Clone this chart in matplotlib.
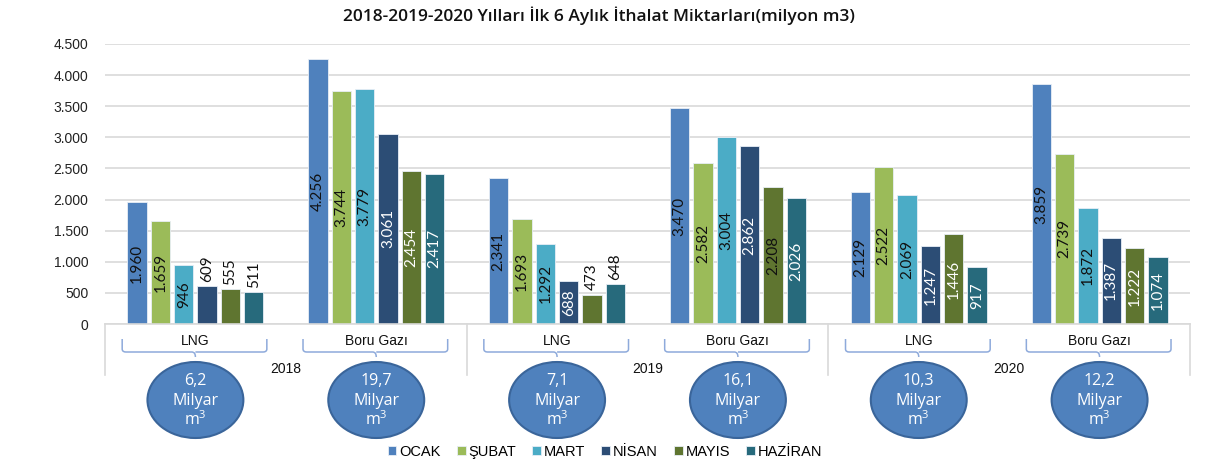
import matplotlib
matplotlib.use("Agg")
import matplotlib.pyplot as plt
import numpy as np
from matplotlib.patches import Ellipse
from matplotlib.path import Path
from matplotlib.patches import PathPatch
from matplotlib.transforms import blended_transform_factory
from matplotlib.ticker import FuncFormatter

plt.rcParams["mathtext.fontset"] = "custom"
plt.rcParams["mathtext.rm"] = "Open Sans"
plt.rcParams["mathtext.it"] = "Open Sans"
plt.rcParams["mathtext.default"] = "rm"

# ---------------- data ----------------
months = ["OCAK", "ŞUBAT", "MART", "NİSAN", "MAYIS", "HAZİRAN"]
groups = ["LNG", "Boru Gazı", "LNG", "Boru Gazı", "LNG", "Boru Gazı"]
years = ["2018", "2019", "2020"]
ocak    = [1960, 4256, 2341, 3470, 2129, 3859]
subat   = [1659, 3744, 1693, 2582, 2522, 2739]
mart    = [946, 3779, 1292, 3004, 2069, 1872]
nisan   = [609, 3061, 688, 2862, 1247, 1387]
mayis   = [555, 2454, 473, 2208, 1446, 1222]
haziran = [511, 2417, 648, 2026, 917, 1074]
totals  = ["6,2", "19,7", "7,1", "16,1", "10,3", "12,2"]
title = "2018-2019-2020 Yılları İlk 6 Aylık İthalat Miktarları(milyon m3)"

series = [ocak, subat, mart, nisan, mayis, haziran]

# ---------------- style ----------------
colors = ["#4F81BD", "#9BBB59", "#4BACC6", "#2C4D75", "#5F7530", "#276A7C"]
inside_label_colors = ["#111111", "#111111", "#111111", "white", "white", "white"]
dark_exceptions = {(3, 4)}  # (group, month) drawn in dark text
outside_threshold = 650

W, H = 1208, 466
fig = plt.figure(figsize=(W / 100, H / 100), dpi=100)
fig.patch.set_facecolor("white")

def fy(p):
    return 1 - p / H

ax = fig.add_axes([105 / W, 142 / H, 1085 / W, 280 / H])
ax.set_xlim(-0.5, 5.5)
ax.set_ylim(0, 4500)
ax.set_yticks(np.arange(0, 4501, 500))
ax.yaxis.set_major_formatter(FuncFormatter(lambda v, p: f"{int(v):,}".replace(",", ".")))
ax.grid(axis="y", color="#D9D9D9", lw=1.2)
ax.set_axisbelow(True)
for s in ["top", "right", "left"]:
    ax.spines[s].set_visible(False)
ax.spines["bottom"].set_color("#D9D9D9")
ax.spines["bottom"].set_linewidth(1.2)
ax.tick_params(axis="y", length=0, pad=12, labelsize=10, labelcolor="#222222")
ax.tick_params(axis="x", length=0, labelbottom=False)
for lbl in ax.get_yticklabels():
    lbl.set_fontfamily("Liberation Sans")

x = np.arange(len(groups))
bw = 0.107
step = 0.129
label_font = "Lato"
for m, vals in enumerate(series):
    xs = x + (m - 2.5) * step
    ax.bar(xs, vals, width=bw, color=colors[m], edgecolor="#E8EEF6", linewidth=0.6,
           label=months[m], zorder=2)
    for g, (xx, v) in enumerate(zip(xs, vals)):
        txt = f"{v:,}".replace(",", ".")
        if v < outside_threshold:
            ax.annotate(txt, (xx, v), xytext=(0, 3), textcoords="offset points",
                        rotation=90, ha="center", va="bottom", fontsize=11,
                        color="#111111", family=label_font, zorder=3)
        else:
            c = inside_label_colors[m]
            if (g, m) in dark_exceptions:
                c = "#111111"
            ax.text(xx, v / 2, txt, rotation=90, ha="center", va="center",
                    fontsize=11, color=c, family=label_font, zorder=3)

# ---------------- category axis below ----------------
bt = blended_transform_factory(ax.transData, fig.transFigure)
sep_color = "#D9D9D9"
for sx in [-0.5, 1.5, 3.5, 5.5]:
    fig.add_artist(plt.Line2D([sx, sx], [fy(324), fy(375)], transform=bt,
                              color=sep_color, lw=1.2))

br_color = "#8EAADB"
for g, name in enumerate(groups):
    c = x[g]
    l, r = c - 0.405, c + 0.395
    fig.text(c, fy(341), name, transform=bt, ha="center", va="center",
             fontsize=10, family="Liberation Sans", color="#111111")
    d = 0.02
    verts = [(l, fy(339)), (l, fy(349)), (l, fy(352)), (l + d, fy(352)),
             (c - d, fy(352)), (c, fy(352)), (c, fy(357)),
             (c, fy(352)), (c + d, fy(352)),
             (r - d, fy(352)), (r, fy(352)), (r, fy(349)), (r, fy(339))]
    codes = [Path.MOVETO, Path.LINETO, Path.CURVE3, Path.CURVE3,
             Path.LINETO, Path.CURVE3, Path.CURVE3,
             Path.MOVETO, Path.LINETO,
             Path.LINETO, Path.CURVE3, Path.CURVE3, Path.LINETO]
    fig.add_artist(PathPatch(Path(verts, codes), transform=bt, fill=False,
                             edgecolor=br_color, lw=1.1))
    e = Ellipse((c, fy(400)), width=96 / 181, height=76 / H, transform=bt,
                facecolor="#4F81BD", edgecolor="#3A659A", lw=1.5)
    fig.add_artist(e)
    fig.text(c, fy(381), totals[g], transform=bt, ha="center", va="center",
             fontsize=11.5, color="white", family="Open Sans")
    fig.text(c, fy(401), "Milyar", transform=bt, ha="center", va="center",
             fontsize=11.5, color="white", family="Open Sans")
    fig.text(c, fy(420), r"m$^{3}$", transform=bt, ha="center", va="center",
             fontsize=11.5, color="white", family="Open Sans")

for i, yr in enumerate(years):
    fig.text(2 * i + 0.5, fy(369), yr, transform=bt, ha="center", va="center",
             fontsize=10, family="Liberation Sans", color="#111111")

fig.text(599 / W, fy(16), title, ha="center", va="center", fontsize=12.5,
         fontweight="semibold", family="Open Sans", color="#111111")

handles, labels = ax.get_legend_handles_labels()
fig.legend(handles, labels, loc="center", bbox_to_anchor=(605 / W, fy(452)),
           ncol=6, frameon=False, handlelength=0.6, handleheight=0.6,
           handletextpad=0.2, columnspacing=1.1,
           prop={"family": "Liberation Sans", "size": 10.5})

fig.savefig("out.png", dpi=100)
